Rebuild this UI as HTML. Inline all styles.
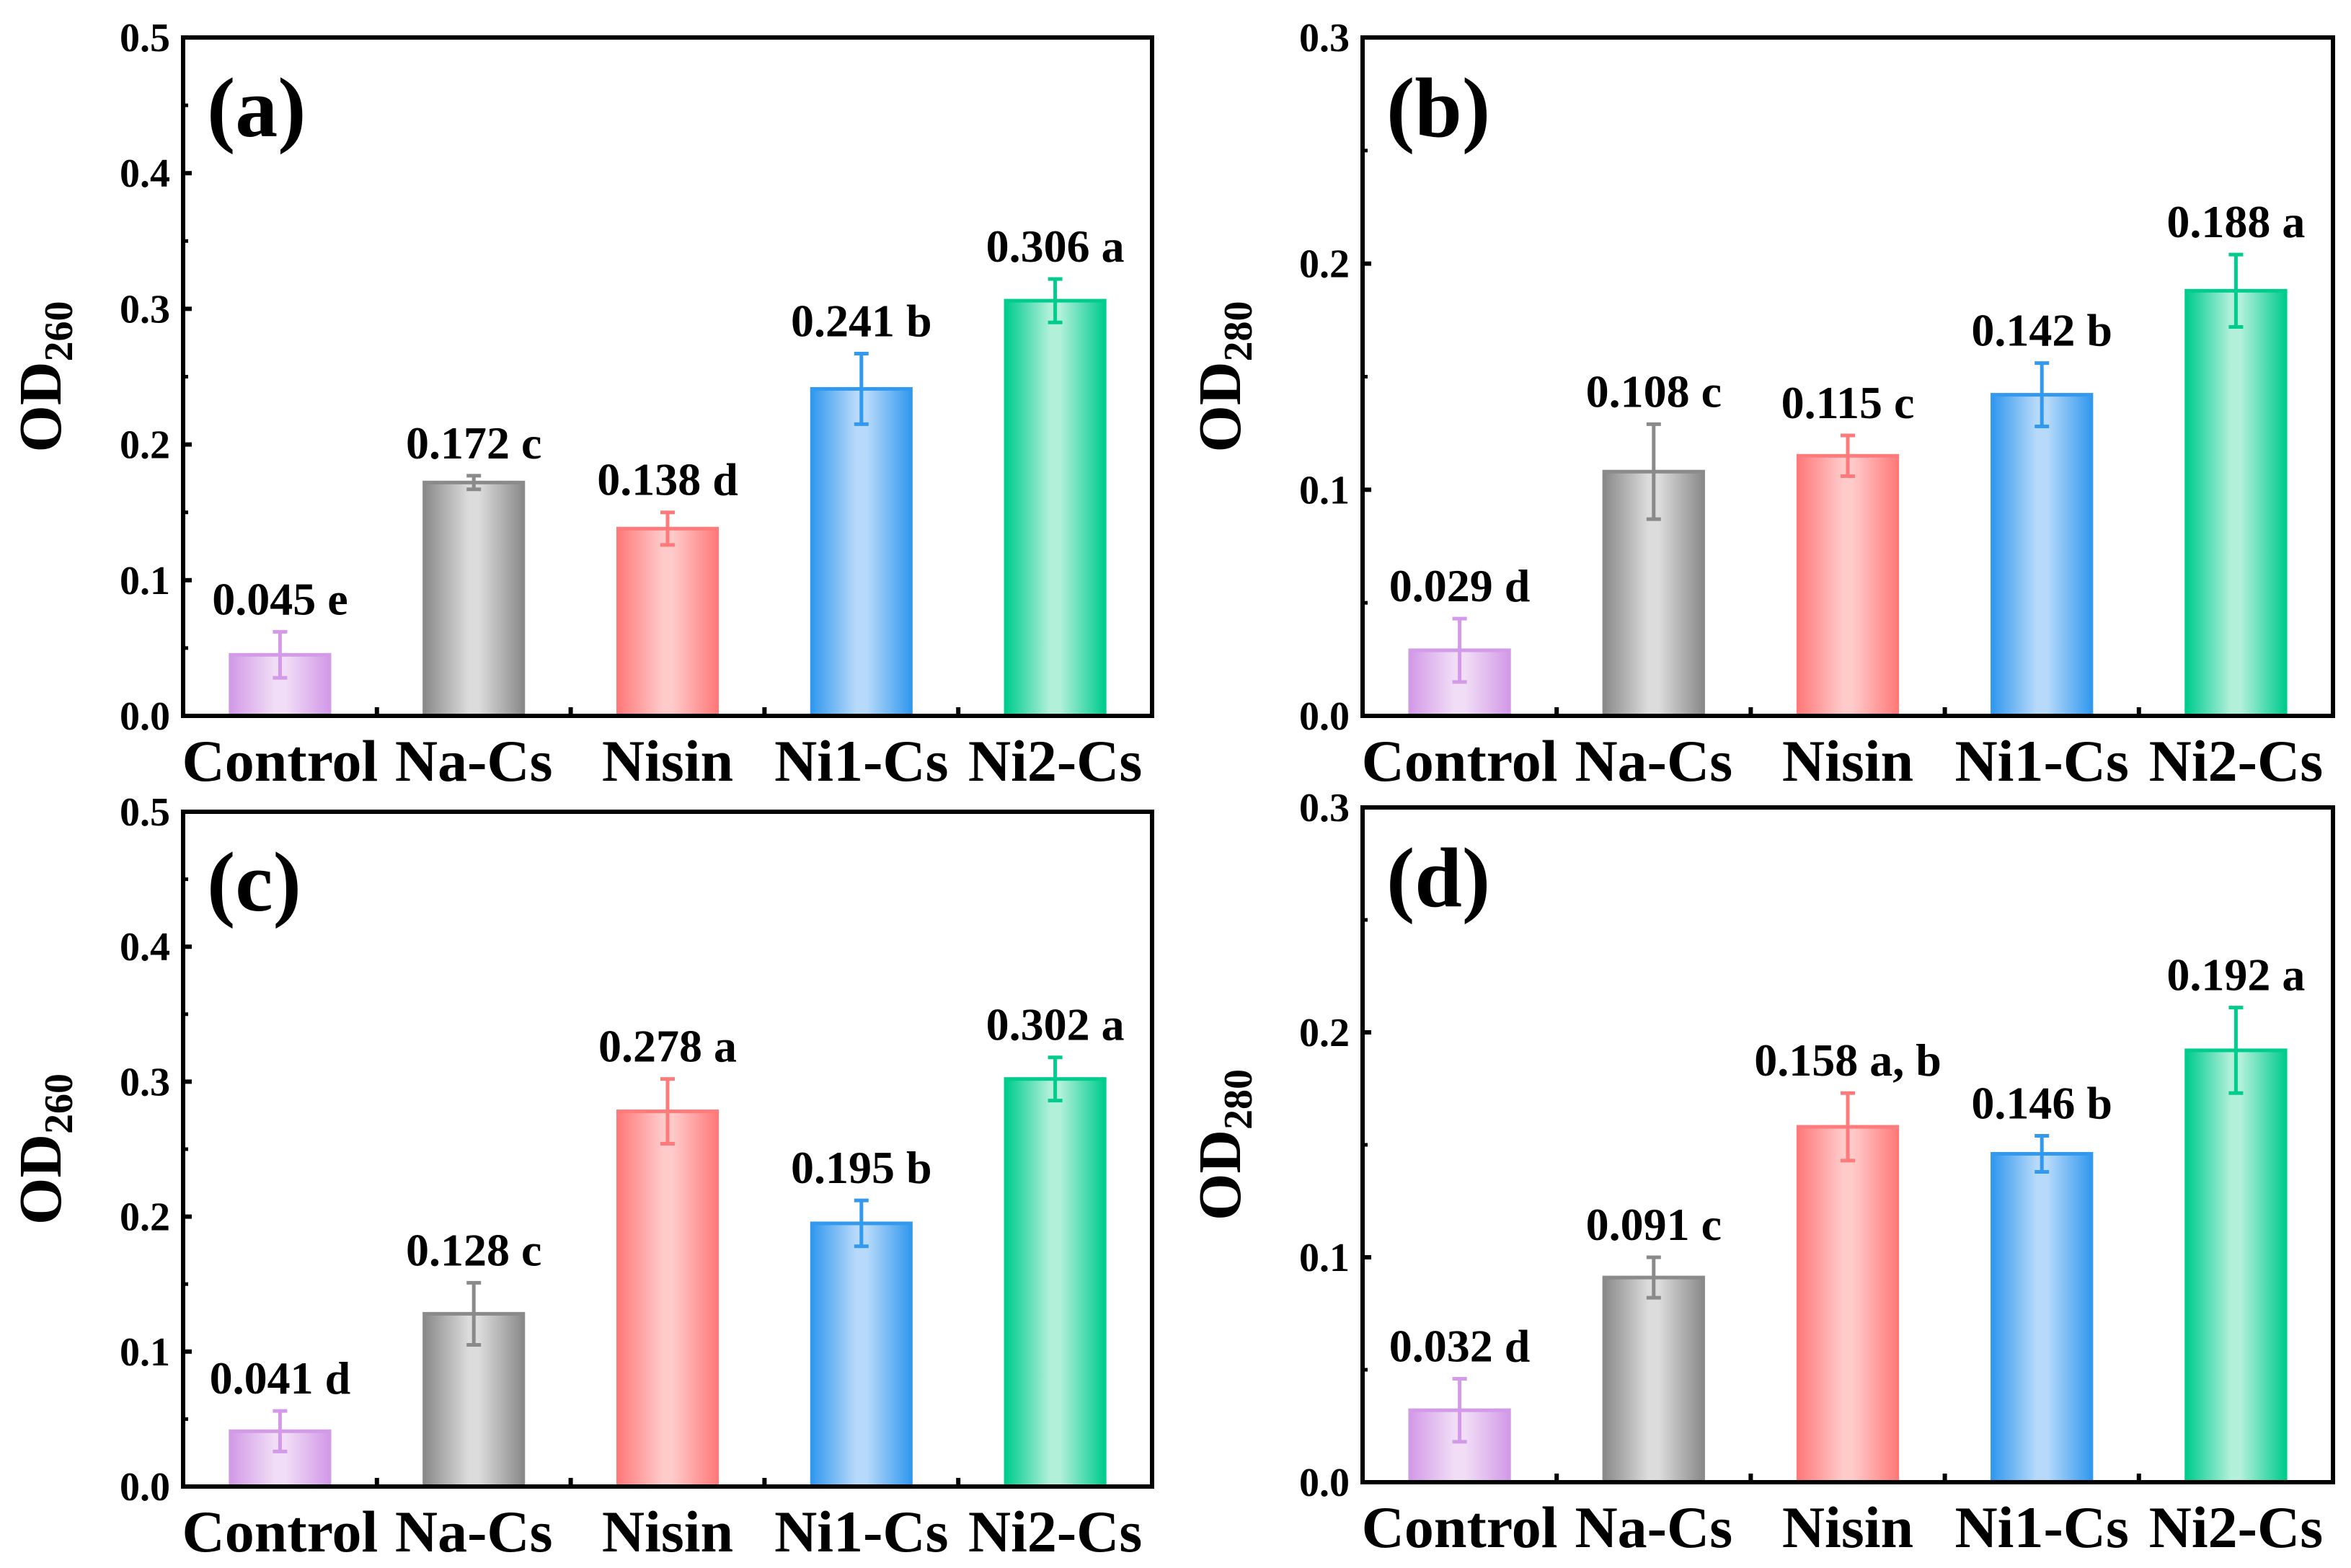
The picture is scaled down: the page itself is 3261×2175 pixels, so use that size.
<!DOCTYPE html>
<html><head><meta charset="utf-8">
<style>
html,body{margin:0;padding:0;background:#fff;}
svg{display:block;}
text{font-family:"Liberation Serif",serif;font-weight:bold;fill:#000;}
</style></head>
<body>
<svg id="chart" width="3261" height="2175" viewBox="0 0 3261 2175" xmlns="http://www.w3.org/2000/svg">
<defs id="defs"></defs>
</svg>
<script>
const categories = ["Control","Na-Cs","Nisin","Ni1-Cs","Ni2-Cs"];
const valuesA = [0.045,0.172,0.138,0.241,0.306];
const errorsA = [0.017,0.005,0.012,0.026,0.016];
const lettersA = ["e","c","d","b","a"];
const valuesB = [0.029,0.108,0.115,0.142,0.188];
const errorsB = [0.014,0.021,0.009,0.014,0.016];
const lettersB = ["d","c","c","b","a"];
const valuesC = [0.041,0.128,0.278,0.195,0.302];
const errorsC = [0.015,0.023,0.024,0.017,0.016];
const lettersC = ["d","c","a","b","a"];
const valuesD = [0.032,0.091,0.158,0.146,0.192];
const errorsD = [0.014,0.009,0.015,0.008,0.019];
const lettersD = ["d","c","a, b","b","a"];
const ticksOD260 = ["0.0","0.1","0.2","0.3","0.4","0.5"];
const ticksOD280 = ["0.0","0.1","0.2","0.3"];

const NS="http://www.w3.org/2000/svg";
const svg=document.getElementById('chart');
const defs=document.getElementById('defs');
const colors=[
 {edge:"#d39ae8",mid:"#f1def6",err:"#d39ae8"},
 {edge:"#8a8a8a",mid:"#dcdcdc",err:"#8a8a8a"},
 {edge:"#ff7a7a",mid:"#ffcaca",err:"#ff7a7a"},
 {edge:"#3399ee",mid:"#b8dafa",err:"#3399ee"},
 {edge:"#00cc8e",mid:"#b2f0da",err:"#00cc8e"}];
colors.forEach((c,i)=>{
 const g=document.createElementNS(NS,'linearGradient');
 g.setAttribute('id','grad'+i);g.setAttribute('x1','0');g.setAttribute('x2','1');g.setAttribute('y1','0');g.setAttribute('y2','0');
 [[0,c.edge],[0.45,c.mid],[0.55,c.mid],[1,c.edge]].forEach(s=>{
  const st=document.createElementNS(NS,'stop');st.setAttribute('offset',s[0]);st.setAttribute('stop-color',s[1]);g.appendChild(st);});
 defs.appendChild(g);
});
function el(tag,attrs,parent,txt){const e=document.createElementNS(NS,tag);for(const k in attrs)e.setAttribute(k,attrs[k]);if(txt!==undefined)e.textContent=txt;(parent||svg).appendChild(e);return e;}

function panel(id,box,ymax,ticks,values,errors,letters,sub,label){
 const g=el('g',{});
 
 
 const L=box.L,R=box.R,T=box.T,B=box.B;
 const ys=v=>B-(v/ymax)*(B-T);
 const step=(R-L)/categories.length;
 const xs=i=>L+step*(i+0.5);
 const bw=step*0.51;
 values.forEach((v,i)=>{
  const c=colors[i];
  const r=el('rect',{x:xs(i)-bw/2,y:ys(v),width:bw,height:B-ys(v),fill:'url(#grad'+i+')',stroke:c.edge,'stroke-width':5},g);
  
  
  const e=errors[i],x=xs(i),yt=ys(v+e),yb=ys(v-e);
  const eg=el('g',{stroke:c.err,'stroke-width':5},g);
  
  
  el('line',{x1:x,x2:x,y1:yt,y2:yb},eg);
  el('line',{x1:x-10,x2:x+10,y1:yt,y2:yt},eg);
  el('line',{x1:x-10,x2:x+10,y1:yb,y2:yb},eg);
  const t=el('text',{x:x,y:yt-24,'font-size':64,'text-anchor':'middle'},g,v.toFixed(3)+' '+letters[i]);
  
  
  const cl=el('text',{x:x,y:B+90,'font-size':82,'text-anchor':'middle'},g,categories[i]);
  
  
 });
 const fr=el('rect',{x:L,y:T,width:R-L,height:B-T,fill:'none',stroke:'#000','stroke-width':6},g);
 
 
 ticks.forEach((tl,i)=>{
  const v=i*0.1,y=ys(v);
  el('line',{x1:L,x2:L+12,y1:y,y2:y,stroke:'#000','stroke-width':6},g);
  if(i<ticks.length-1){const ym=ys(v+0.05);el('line',{x1:L,x2:L+7,y1:ym,y2:ym,stroke:'#000','stroke-width':5},g);}
  const t=el('text',{x:L-18,y:y+19,'font-size':56,'text-anchor':'end'},g,tl);
  
  
 });
 for(let i=1;i<categories.length;i++){const x=L+step*i;el('line',{x1:x,x2:x,y1:B,y2:B-12,stroke:'#000','stroke-width':6},g);}
 const cy=(T+B)/2,tx=L-170;
 const yt=el('text',{x:tx,y:cy,'font-size':84,'text-anchor':'middle',transform:'rotate(-90 '+tx+' '+cy+')'},g);
 
 
 el('tspan',{},yt,'OD');
 el('tspan',{'font-size':56,dy:16},yt,sub);
 const pl=el('text',{x:L+33,y:T+137,'font-size':118,'text-anchor':'start'},g,label);
 
 
}
panel('a',{L:254,R:1598,T:52,B:993},0.5,ticksOD260,valuesA,errorsA,lettersA,'260','(a)');
panel('b',{L:1890,R:3236,T:52,B:993},0.3,ticksOD280,valuesB,errorsB,lettersB,'280','(b)');
panel('c',{L:254,R:1598,T:1126,B:2062},0.5,ticksOD260,valuesC,errorsC,lettersC,'260','(c)');
panel('d',{L:1890,R:3236,T:1120,B:2056},0.3,ticksOD280,valuesD,errorsD,lettersD,'280','(d)');
</script>
</body></html>
